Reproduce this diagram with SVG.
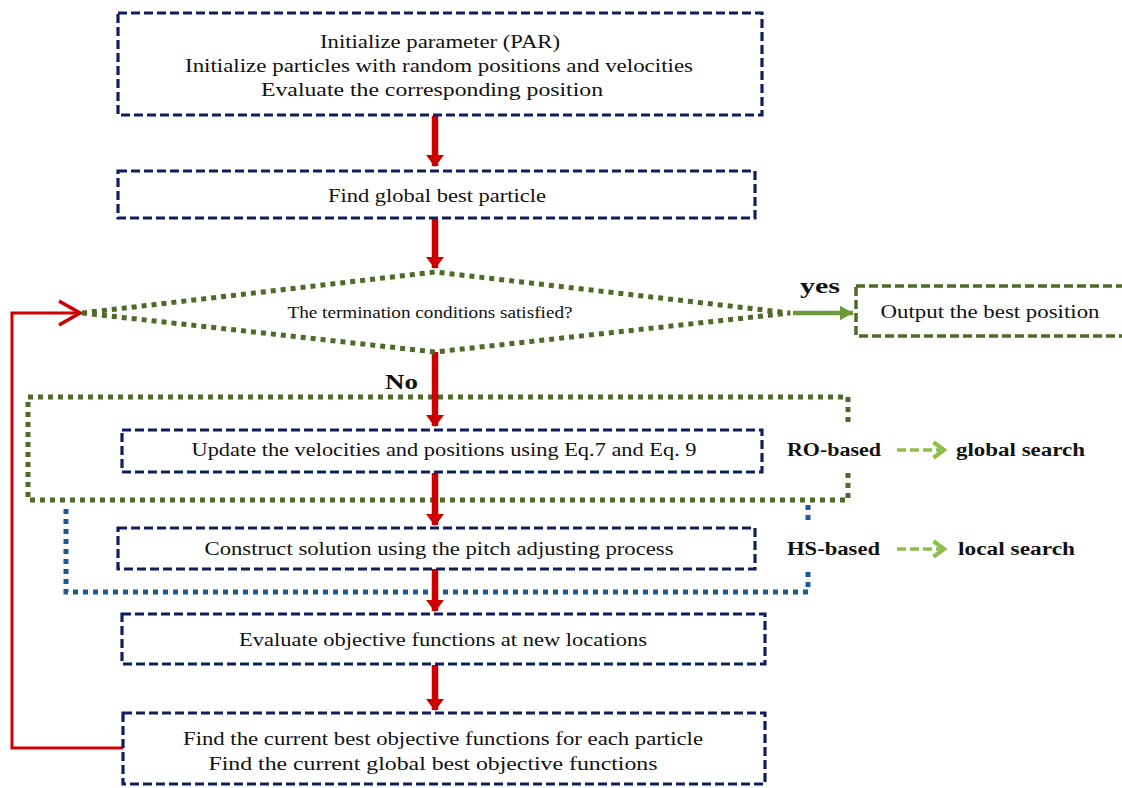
<svg xmlns="http://www.w3.org/2000/svg" width="1122" height="788" viewBox="0 0 1122 788">
<defs>
<marker id="redHead" markerWidth="14" markerHeight="20" refX="11" refY="10" orient="auto" markerUnits="userSpaceOnUse">
<path d="M0,1 L12,10 L0,19 z" fill="#cc0000"/>
</marker>
<marker id="openHead" markerWidth="10" markerHeight="10" refX="8" refY="5" orient="auto" markerUnits="strokeWidth">
<path d="M1,1 L8,5 L1,9" fill="none" stroke="#cc0000" stroke-width="1.2"/>
</marker>
<marker id="greenHead" markerWidth="5" markerHeight="5" refX="3" refY="2.5" orient="auto" markerUnits="strokeWidth">
<path d="M0,0.8 L3,2.5 L0,4.2 z" fill="#6b9a3a"/>
</marker>
<marker id="lightHead" markerWidth="6" markerHeight="6" refX="4" refY="3" orient="auto" markerUnits="strokeWidth">
<path d="M1,0.8 L4,3 L1,5.2" fill="none" stroke="#8fbf4a" stroke-width="1.2"/>
</marker>
</defs>
<style>
.box{fill:none;stroke:#0f1f5c;stroke-width:3.2;stroke-dasharray:9 4}
.gdot{fill:none;stroke:#4d6b26;stroke-width:5;stroke-dasharray:5 5}
.bdot{fill:none;stroke:#1f5994;stroke-width:5;stroke-dasharray:5 5}
.obox{fill:none;stroke:#4d6b26;stroke-width:3.5;stroke-dasharray:9 4}
.t{font-family:"Liberation Serif","Times New Roman",serif;font-size:18px;fill:#111;text-anchor:middle}
.ts{font-family:"Liberation Serif","Times New Roman",serif;font-size:16px;fill:#111;text-anchor:middle}
.b{font-family:"Liberation Serif","Times New Roman",serif;font-size:18px;font-weight:bold;fill:#111}
.bl{font-family:"Liberation Serif","Times New Roman",serif;font-size:21px;font-weight:bold;fill:#111}
.ra{stroke:#cc0000;stroke-width:6.5;fill:none;marker-end:url(#redHead)}
.la{stroke:#8fbf4a;stroke-width:3.5;stroke-dasharray:9 4;fill:none;marker-end:url(#lightHead)}
</style>

<g id="groups">
<path class="gdot" d="M848,422 L848,397 L28,397 L28,500 L848,500 L848,473"/>
<path class="bdot" d="M808,520 L808,505 M808,572 L808,592 L66,592 L66,505"/>
</g>

<g id="connectors">
<line class="ra" x1="435" y1="116" x2="435" y2="166"/>
<line class="ra" x1="435" y1="219" x2="435" y2="268"/>
<line class="ra" x1="435" y1="352" x2="435" y2="426"/>
<line class="ra" x1="435" y1="473" x2="435" y2="525"/>
<line class="ra" x1="435" y1="569" x2="435" y2="611"/>
<line class="ra" x1="435" y1="665" x2="435" y2="710"/>
<polyline points="123,748 12,748 12,313 80,313" fill="none" stroke="#cc0000" stroke-width="3" marker-end="url(#openHead)"/>
<line x1="793" y1="313" x2="853" y2="313" stroke="#6b9a3a" stroke-width="4.5" marker-end="url(#greenHead)"/>
<line class="la" x1="897" y1="450" x2="944" y2="450"/>
<line class="la" x1="897" y1="549" x2="944" y2="549"/>
</g>

<g id="n1">
<rect class="box" x="118" y="13" width="644" height="102"/>
<text class="t" x="440" y="48" textLength="240" lengthAdjust="spacingAndGlyphs">Initialize parameter (PAR)</text>
<text class="t" x="439" y="72" textLength="508" lengthAdjust="spacingAndGlyphs">Initialize  particles with random positions and velocities</text>
<text class="t" x="432" y="96" textLength="342" lengthAdjust="spacingAndGlyphs">Evaluate the corresponding position</text>
</g>

<g id="n2">
<rect class="box" x="118" y="171" width="637" height="47"/>
<text class="t" x="437" y="202" textLength="218" lengthAdjust="spacingAndGlyphs">Find global best particle</text>
</g>

<g id="n3">
<polygon class="gdot" points="82,313 435,272 790,313 435,352"/>
<text class="ts" x="430" y="318" textLength="285" lengthAdjust="spacingAndGlyphs">The termination conditions satisfied?</text>
</g>

<g id="n4">
<rect class="obox" x="856" y="286" width="280" height="50"/>
<text class="t" x="990" y="318" textLength="219" lengthAdjust="spacingAndGlyphs">Output the best position</text>
</g>

<g id="n5">
<rect class="box" x="122" y="430" width="640" height="42"/>
<text class="t" x="444" y="456" textLength="505" lengthAdjust="spacingAndGlyphs">Update the velocities and positions using Eq.7 and Eq. 9</text>
</g>

<g id="n6">
<rect class="box" x="118" y="528" width="637" height="41"/>
<text class="t" x="439" y="555" textLength="469" lengthAdjust="spacingAndGlyphs">Construct solution using the pitch adjusting process</text>
</g>

<g id="n7">
<rect class="box" x="122" y="614" width="643" height="50"/>
<text class="t" x="443" y="646" textLength="408" lengthAdjust="spacingAndGlyphs">Evaluate objective functions at new locations</text>
</g>

<g id="n8">
<rect class="box" x="123" y="713" width="642" height="71"/>
<text class="t" x="443" y="745" textLength="520" lengthAdjust="spacingAndGlyphs">Find the current best objective functions for each particle</text>
<text class="t" x="433" y="770" textLength="449" lengthAdjust="spacingAndGlyphs">Find the current global best objective functions</text>
</g>

<g id="labels">
<text class="bl" x="800" y="293" textLength="40" lengthAdjust="spacingAndGlyphs">yes</text>
<text class="bl" x="385" y="389" textLength="33" lengthAdjust="spacingAndGlyphs">No</text>
<text class="b" x="787" y="456" textLength="94" lengthAdjust="spacingAndGlyphs">RO-based</text>
<text class="b" x="956" y="456" textLength="129" lengthAdjust="spacingAndGlyphs">global search</text>
<text class="b" x="787" y="555" textLength="93" lengthAdjust="spacingAndGlyphs">HS-based</text>
<text class="b" x="958" y="555" textLength="117" lengthAdjust="spacingAndGlyphs">local search</text>
</g>
</svg>
